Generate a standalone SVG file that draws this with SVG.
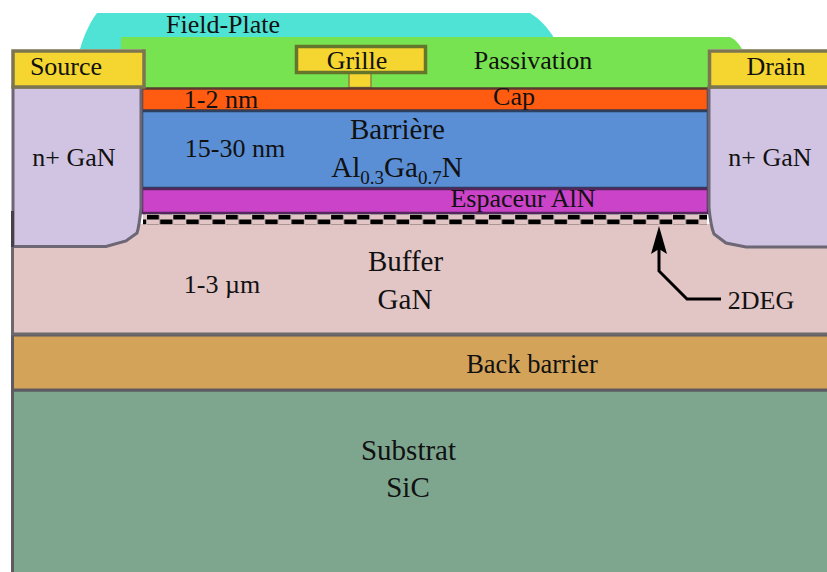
<svg xmlns="http://www.w3.org/2000/svg" width="827" height="572" viewBox="0 0 827 572">
<style>
text{font-family:"Liberation Serif","Times New Roman",serif;font-size:26px;fill:#111;text-anchor:middle}
.big{font-size:29px}
.sub{font-size:19px}
.layer{stroke:#5d5a60;stroke-width:3}
.metal{fill:#f5d52f;stroke:#7b7550;stroke-width:3.500}
.nplus{fill:#d1c4e3;stroke:#6c6675;stroke-width:3}
</style>
<defs>
<pattern id="checker" x="147" y="214.500" width="26.300" height="10" patternUnits="userSpaceOnUse">
<rect width="26.300" height="10" fill="#e2c5c5"/>
<rect x="0" y="0" width="12" height="5" fill="#000"/>
<rect x="13" y="5" width="12.500" height="5" fill="#000"/>
</pattern>
<filter id="soft" x="-2%" y="-20%" width="104%" height="140%"><feGaussianBlur stdDeviation="0.500"/></filter>
</defs>
<g id="substrat"><rect class="layer" x="12.500" y="390" width="820" height="190" fill="#7ea68f"/><text class="big" x="408.500" y="460">Substrat</text><text class="big" x="408" y="497">SiC</text></g>
<g id="back-barrier"><rect class="layer" x="12.500" y="335" width="820" height="55" fill="#d3a35a" stroke="#6f5d48"/><text x="532" y="373" style="font-size:26.500px">Back barrier</text></g>
<g id="buffer"><rect x="12.500" y="224" width="820" height="110" fill="#e2c5c5"/><path d="M12.500 224V334H827" fill="none" stroke="#6d686b" stroke-width="3"/><text class="big" x="405.500" y="271">Buffer</text><text class="big" x="405" y="309">GaN</text><text x="222" y="293">1-3 µm</text></g>
<g id="field-plate"><path d="M80 49C84 35 90 22 97 13H530C540 19 548 28 554 38L121 49Z" fill="#4fe3d5"/><text x="223" y="33">Field-Plate</text></g>
<g id="passivation"><path d="M121 37H730C735 39 739 44 742 49H708V88H142V49H121Z" fill="#78e350"/><text x="533" y="69">Passivation</text></g>
<g id="grille"><rect x="349" y="71" width="22" height="16.500" fill="#f5d52f" stroke="#8f8640" stroke-width="1.500"/><rect x="296.500" y="46.500" width="129" height="26" fill="#f5d52f" stroke="#64762c" stroke-width="3.500"/><text x="357" y="69">Grille</text></g>
<g id="cap"><rect x="142" y="88.500" width="566" height="22" fill="#ff5c12" stroke="#5a3a30" stroke-width="2.500"/><text x="221" y="108">1-2 nm</text><text x="514" y="105">Cap</text></g>
<g id="barriere"><rect x="142" y="111" width="566" height="77" fill="#5a8fd6" stroke="#2f3f5f" stroke-width="2.500"/><text class="big" x="397.500" y="139">Barrière</text><text x="235" y="157">15-30 nm</text><text class="big" x="397" y="177">Al<tspan class="sub" dy="7">0.3</tspan><tspan dy="-7">Ga</tspan><tspan class="sub" dy="7">0.7</tspan><tspan dy="-7">N</tspan></text></g>
<g id="espaceur"><rect x="142" y="189" width="566" height="24" fill="#cb43c8" stroke="#54275c" stroke-width="2.500"/><text x="523" y="207">Espaceur AlN</text></g>
<g id="deg"><rect x="143" y="214.500" width="564" height="10" fill="url(#checker)" filter="url(#soft)"/><text x="761" y="309">2DEG</text></g>
<g id="source"><path class="nplus" d="M13 87H141V208C140 218 139 227 137 233L126 241L106 246.500H13Z"/><path d="M12.500 211V247" stroke="#45414a" stroke-width="3" fill="none"/><rect class="metal" x="13" y="51" width="131" height="36"/><text x="66" y="75">Source</text><text x="74" y="166">n+ GaN</text></g>
<g id="drain"><path class="nplus" d="M830 87H709V208C710 218 711 227 714 234L726 243L746 247H830Z"/><rect class="metal" x="709.500" y="51" width="122" height="36"/><text x="776" y="75">Drain</text><text x="770" y="166">n+ GaN</text></g>
<g id="connectors"><path d="M721 299H687L659 271V236" fill="none" stroke="#000" stroke-width="3"/><path d="M659 226L667 254L659 249L651 254Z" fill="#000"/></g>
</svg>
